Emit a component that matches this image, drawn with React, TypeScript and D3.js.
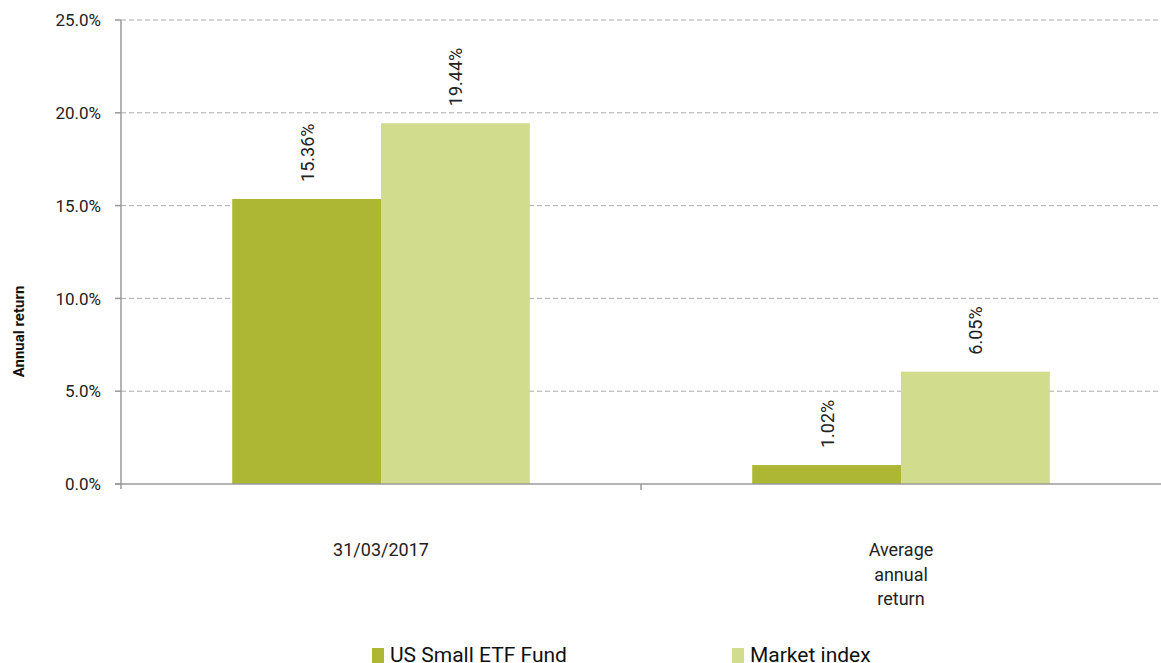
import React from "react";
import * as d3 from "d3";

const categories: string[][] = [["31/03/2017"], ["Average", "annual", "return"]];
const seriesNames = ["US Small ETF Fund", "Market index"];
const fundValues = [15.36, 1.02];
const indexValues = [19.44, 6.05];
const yTicks = [0, 5, 10, 15, 20, 25];
const colors = ["#ADB733", "#D1DC8C"];

const W = 1161;
const H = 663;
const M = { left: 121, right: 0, top: 20, bottom: 179 };

export default function App() {
  const x = d3
    .scaleBand<number>()
    .domain(categories.map((_, i) => i))
    .range([M.left, W - M.right])
    .paddingInner(0)
    .paddingOuter(0);
  const y = d3.scaleLinear().domain([0, 25]).range([H - M.bottom, M.top]);
  const inner = d3
    .scaleBand<number>()
    .domain([0, 1])
    .range([0, x.bandwidth()])
    .paddingInner(0)
    .paddingOuter(0.7475);
  const series = [fundValues, indexValues];
  const font = "Roboto, 'Noto Sans', sans-serif";
  const axisColor = "#9a9a9a";
  const y0 = y(0);

  return (
    <svg
      width={W}
      height={H}
      style={{ position: "absolute", left: 0, top: 0, background: "#fff" }}
      fontFamily={font}
    >
      {/* gridlines */}
      {yTicks.slice(1).map((t) => (
        <line
          key={"g" + t}
          x1={M.left}
          x2={W}
          y1={y(t)}
          y2={y(t)}
          stroke="#a8a8a8"
          strokeWidth={1}
          strokeDasharray="5,3"
        />
      ))}
      {/* bars */}
      {series.map((vals, si) =>
        vals.map((v, ci) => {
          const bx = (x(ci) as number) + (inner(si) as number);
          return (
            <rect
              key={`b${si}-${ci}`}
              x={bx}
              y={y(v)}
              width={inner.bandwidth()}
              height={y0 - y(v)}
              fill={colors[si]}
            />
          );
        })
      )}
      {/* bar labels */}
      {series.map((vals, si) =>
        vals.map((v, ci) => {
          const cx = (x(ci) as number) + (inner(si) as number) + inner.bandwidth() / 2;
          const ty = y(v) - 17;
          return (
            <text
              key={`l${si}-${ci}`}
              transform={`translate(${cx + 7},${ty}) rotate(-90)`}
              fontSize={18}
              fill="#222"
              textAnchor="start"
            >
              {v.toFixed(2) + "%"}
            </text>
          );
        })
      )}
      {/* y axis */}
      <line x1={M.left} x2={M.left} y1={M.top} y2={y0 + 5} stroke={axisColor} strokeWidth={1.5} />
      {yTicks.map((t) => (
        <g key={"t" + t}>
          <line x1={M.left - 6} x2={M.left} y1={y(t)} y2={y(t)} stroke={axisColor} strokeWidth={1.5} />
          <text x={101} y={y(t)} dy="0.36em" textAnchor="end" fontSize={17} fill="#222">
            {t.toFixed(1) + "%"}
          </text>
        </g>
      ))}
      {/* x axis */}
      <line x1={M.left - 6} x2={W} y1={y0} y2={y0} stroke={axisColor} strokeWidth={1.5} />
      {categories.map((_, i) =>
        i > 0 ? (
          <line
            key={"xt" + i}
            x1={x(i) as number}
            x2={x(i) as number}
            y1={y0}
            y2={y0 + 6}
            stroke={axisColor}
            strokeWidth={1.5}
          />
        ) : null
      )}
      {/* category labels */}
      {categories.map((lines, i) => (
        <g key={"c" + i} transform={`translate(${(x(i) as number) + x.bandwidth() / 2},0)`}>
          {lines.map((ln, li) => (
            <text key={li} x={0} y={556 + li * 24.5} textAnchor="middle" fontSize={18} fill="#222">
              {ln}
            </text>
          ))}
        </g>
      ))}
      {/* y title */}
      <text
        transform={`translate(24,${H / 2}) rotate(-90)`}
        textAnchor="middle"
        fontSize={15}
        fontWeight="bold"
        fill="#111"
      >
        Annual return
      </text>
      {/* legend */}
      {seriesNames.map((name, i) => {
        const lx = i === 0 ? 372 : 732;
        return (
          <g key={"lg" + i}>
            <rect x={lx} y={648} width={12} height={15} fill={colors[i]} />
            <text x={lx + 18} y={662} fontSize={21} fill="#111">
              {name}
            </text>
          </g>
        );
      })}
    </svg>
  );
}
